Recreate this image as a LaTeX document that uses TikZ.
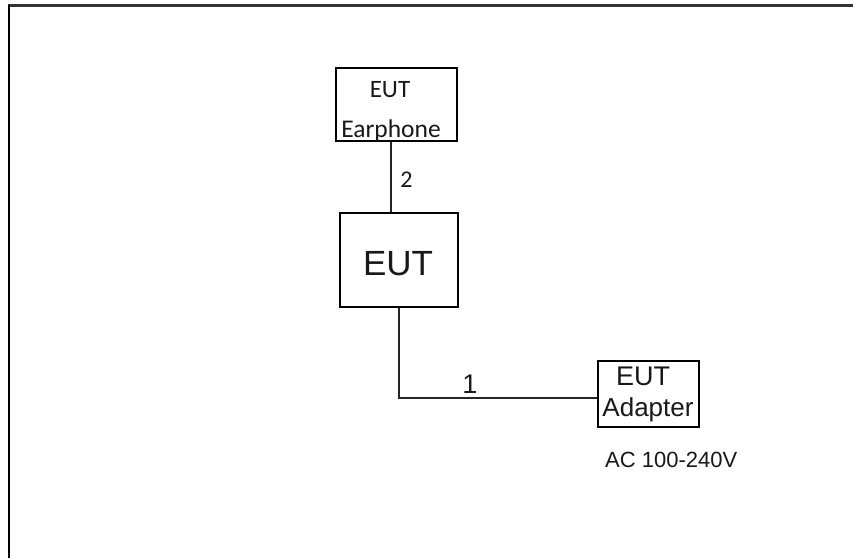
\documentclass[tikz,border=0pt]{standalone}
\usepackage{fontspec}
\setmainfont{Liberation Sans}
\newfontfamily\calib{Carlito}
\begin{document}
\begin{tikzpicture}[x=1pt,y=-1pt,
  box/.style={draw=black,line width=2pt,inner sep=0pt,anchor=north west},
  wire/.style={draw=black!85,line width=1.8pt},
  lbl/.style={inner sep=0pt,anchor=base,text=black!90}]
\useasboundingbox (0,0) rectangle (853,558);
\fill[white] (0,0) rectangle (853,558);
% frame
\draw[black!80,line width=2.8pt] (8,5.8) -- (853,5.8);
\draw[black,line width=2pt] (9.3,5) -- (9.3,558);
% boxes
\node[box,minimum width=121pt,minimum height=73pt] (earph) at (335,67) {};
\node[box,minimum width=118pt,minimum height=94pt] (eut) at (339,212) {};
\node[box,minimum width=101pt,minimum height=66pt] (adapter) at (597,360) {};
% texts
\node[lbl,font=\calib\fontsize{25}{28}\selectfont] (t1) at (390,97) {EUT};
\node[lbl,font=\calib\fontsize{25.5}{28}\selectfont] (t2) at (391,137) {Earphone};
\node[lbl,font=\fontsize{35}{40}\selectfont] (t3) at (398,275) {EUT};
\node[lbl,font=\fontsize{27}{30}\selectfont] (t4) at (643,385) {EUT};
\node[lbl,font=\fontsize{26}{30}\selectfont] (t5) at (648,416) {Adapter};
\node[lbl,font=\fontsize{22}{26}\selectfont,anchor=base west] (t6) at (605,467) {AC 100-240V};
% connectors
\coordinate (c2) at (391,0);
\coordinate (bend) at (399,398);
\draw[wire] (earph.south -| c2) -- (eut.north -| c2);
\draw[wire] (eut.south -| bend) -- (bend) -- (adapter.west |- bend);
\node[lbl,font=\calib\fontsize{24}{27}\selectfont] (n2) at (406.5,187) {2};
\node[lbl,font=\fontsize{27}{30}\selectfont] (n1) at (470,393) {1};
\end{tikzpicture}
\end{document}
